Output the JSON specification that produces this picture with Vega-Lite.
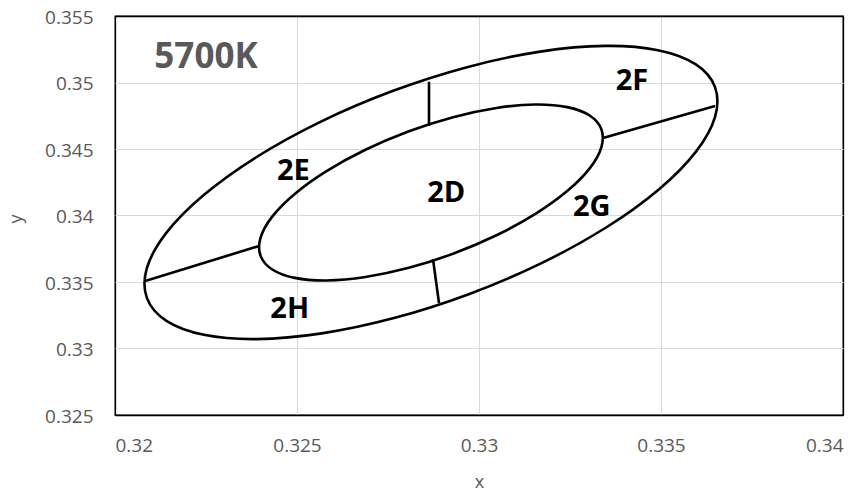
{
  "$schema": "https://vega.github.io/schema/vega-lite/v6.json",
  "width": 728,
  "height": 399,
  "autosize": {"type": "none"},
  "padding": {"left": 115, "top": 16, "right": 22, "bottom": 76},
  "background": "white",
  "config": {
    "view": {"stroke": "#000000", "strokeWidth": 1.3},
    "axis": {
      "labelFont": "Open Sans",
      "labelFontSize": 19,
      "labelColor": "#595959",
      "titleFont": "Open Sans",
      "titleFontSize": 18,
      "titleFontWeight": "normal",
      "titleColor": "#595959",
      "ticks": false,
      "domain": false
    }
  },
  "datasets": {
    "ellipse": [
      {"s": "outer", "i": 0, "x": 0.336482, "y": 0.349671},
      {"s": "outer", "i": 1, "x": 0.335947, "y": 0.351380},
      {"s": "outer", "i": 2, "x": 0.334917, "y": 0.352431},
      {"s": "outer", "i": 3, "x": 0.333462, "y": 0.352752},
      {"s": "outer", "i": 4, "x": 0.331681, "y": 0.352322},
      {"s": "outer", "i": 5, "x": 0.329696, "y": 0.351171},
      {"s": "outer", "i": 6, "x": 0.327641, "y": 0.349376},
      {"s": "outer", "i": 7, "x": 0.325657, "y": 0.347060},
      {"s": "outer", "i": 8, "x": 0.323879, "y": 0.344381},
      {"s": "outer", "i": 9, "x": 0.322429, "y": 0.341521},
      {"s": "outer", "i": 10, "x": 0.321404, "y": 0.338676},
      {"s": "outer", "i": 11, "x": 0.320875, "y": 0.336038},
      {"s": "outer", "i": 12, "x": 0.320878, "y": 0.333789},
      {"s": "outer", "i": 13, "x": 0.321413, "y": 0.332080},
      {"s": "outer", "i": 14, "x": 0.322443, "y": 0.331030},
      {"s": "outer", "i": 15, "x": 0.323898, "y": 0.330708},
      {"s": "outer", "i": 16, "x": 0.325679, "y": 0.331138},
      {"s": "outer", "i": 17, "x": 0.327664, "y": 0.332289},
      {"s": "outer", "i": 18, "x": 0.329719, "y": 0.334084},
      {"s": "outer", "i": 19, "x": 0.331703, "y": 0.336400},
      {"s": "outer", "i": 20, "x": 0.333481, "y": 0.339079},
      {"s": "outer", "i": 21, "x": 0.334932, "y": 0.341939},
      {"s": "outer", "i": 22, "x": 0.335956, "y": 0.344785},
      {"s": "outer", "i": 23, "x": 0.336485, "y": 0.347422},
      {"s": "inner", "i": 0, "x": 0.333361, "y": 0.346495},
      {"s": "inner", "i": 1, "x": 0.333040, "y": 0.347520},
      {"s": "inner", "i": 2, "x": 0.332422, "y": 0.348150},
      {"s": "inner", "i": 3, "x": 0.331549, "y": 0.348343},
      {"s": "inner", "i": 4, "x": 0.330481, "y": 0.348085},
      {"s": "inner", "i": 5, "x": 0.329289, "y": 0.347395},
      {"s": "inner", "i": 6, "x": 0.328057, "y": 0.346318},
      {"s": "inner", "i": 7, "x": 0.326866, "y": 0.344928},
      {"s": "inner", "i": 8, "x": 0.325800, "y": 0.343321},
      {"s": "inner", "i": 9, "x": 0.324929, "y": 0.341605},
      {"s": "inner", "i": 10, "x": 0.324314, "y": 0.339897},
      {"s": "inner", "i": 11, "x": 0.323997, "y": 0.338315},
      {"s": "inner", "i": 12, "x": 0.323999, "y": 0.336965},
      {"s": "inner", "i": 13, "x": 0.324320, "y": 0.335940},
      {"s": "inner", "i": 14, "x": 0.324938, "y": 0.335310},
      {"s": "inner", "i": 15, "x": 0.325811, "y": 0.335117},
      {"s": "inner", "i": 16, "x": 0.326879, "y": 0.335375},
      {"s": "inner", "i": 17, "x": 0.328071, "y": 0.336065},
      {"s": "inner", "i": 18, "x": 0.329303, "y": 0.337143},
      {"s": "inner", "i": 19, "x": 0.330494, "y": 0.338532},
      {"s": "inner", "i": 20, "x": 0.331560, "y": 0.340140},
      {"s": "inner", "i": 21, "x": 0.332431, "y": 0.341855},
      {"s": "inner", "i": 22, "x": 0.333046, "y": 0.343563},
      {"s": "inner", "i": 23, "x": 0.333363, "y": 0.345145}
    ],
    "dividers": [
      {"s": "L", "x": 0.320852, "y": 0.335098},
      {"s": "L", "x": 0.323956, "y": 0.337707},
      {"s": "R", "x": 0.336484, "y": 0.348233},
      {"s": "R", "x": 0.333407, "y": 0.345827},
      {"s": "T", "x": 0.328626, "y": 0.350060},
      {"s": "T", "x": 0.328626, "y": 0.346729},
      {"s": "B", "x": 0.328901, "y": 0.333421},
      {"s": "B", "x": 0.328736, "y": 0.336729}
    ],
    "zones": [
      {"t": "2E", "x": 0.3249, "y": 0.3427},
      {"t": "2D", "x": 0.3291, "y": 0.3410},
      {"t": "2H", "x": 0.3248, "y": 0.3323},
      {"t": "2F", "x": 0.3342, "y": 0.3494},
      {"t": "2G", "x": 0.3331, "y": 0.3400}
    ],
    "heading": [
      {"t": "5700K", "x": 0.3225, "y": 0.3511}
    ]
  },
  "layer": [
    {
      "data": {"name": "ellipse"},
      "mark": {"type": "line", "interpolate": "cardinal-closed", "stroke": "#000000", "strokeWidth": 2.6},
      "encoding": {
        "x": {
          "field": "x", "type": "quantitative",
          "scale": {"domain": [0.32, 0.34], "nice": false, "zero": false},
          "axis": {
            "values": [0.32, 0.325, 0.33, 0.335, 0.34], "format": "~f", "labelPadding": 21,
            "gridColor": {"condition": {"test": "datum.value < 0.3201 || datum.value > 0.3399", "value": "#000000"}, "value": "#d9d9d9"},
            "gridWidth": {"condition": {"test": "datum.value < 0.3201 || datum.value > 0.3399", "value": 1.3}, "value": 1},
            "title": "x", "titleBaseline": "alphabetic", "titleY": 72, "titleX": 364, "titleAlign": "center"
          }
        },
        "y": {
          "field": "y", "type": "quantitative",
          "scale": {"domain": [0.325, 0.355], "nice": false, "zero": false},
          "axis": {
            "values": [0.325, 0.33, 0.335, 0.34, 0.345, 0.35, 0.355], "format": "~f", "labelPadding": 22, "labelOffset": 1,
            "gridColor": {"condition": {"test": "datum.value < 0.3251 || datum.value > 0.3549", "value": "#000000"}, "value": "#d9d9d9"},
            "gridWidth": {"condition": {"test": "datum.value < 0.3251 || datum.value > 0.3549", "value": 1.3}, "value": 1},
            "title": "y", "titleBaseline": "alphabetic", "titleAngle": -90, "titleX": -94, "titleY": 202.5, "titleAlign": "center"
          }
        },
        "order": {"field": "i", "type": "quantitative"},
        "detail": {"field": "s", "type": "nominal"}
      }
    },
    {
      "data": {"name": "dividers"},
      "mark": {"type": "line", "stroke": "#000000", "strokeWidth": 2.6},
      "encoding": {
        "x": {"field": "x", "type": "quantitative"},
        "y": {"field": "y", "type": "quantitative"},
        "detail": {"field": "s", "type": "nominal"}
      }
    },
    {
      "data": {"name": "zones"},
      "mark": {"type": "text", "font": "Open Sans", "fontWeight": "bold", "fontSize": 29, "color": "#000000", "align": "center", "baseline": "alphabetic"},
      "encoding": {
        "x": {"field": "x", "type": "quantitative"},
        "y": {"field": "y", "type": "quantitative"},
        "text": {"field": "t", "type": "nominal"}
      }
    },
    {
      "data": {"name": "heading"},
      "mark": {"type": "text", "font": "Open Sans", "fontWeight": "bold", "fontSize": 35, "color": "#595959", "align": "center", "baseline": "alphabetic"},
      "encoding": {
        "x": {"field": "x", "type": "quantitative"},
        "y": {"field": "y", "type": "quantitative"},
        "text": {"field": "t", "type": "nominal"}
      }
    }
  ]
}
